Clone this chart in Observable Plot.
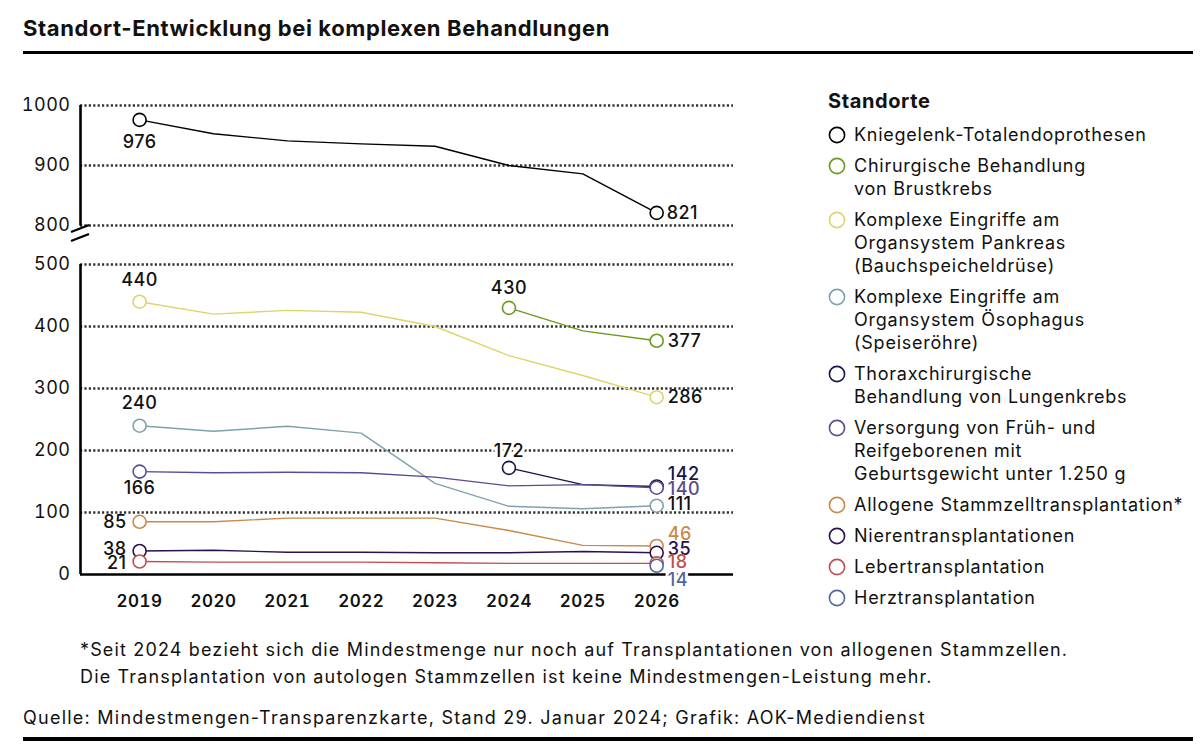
<!DOCTYPE html>
<html lang="de">
<head>
<meta charset="utf-8">
<script src="https://cdn.jsdelivr.net/npm/d3@7"></script>
<script src="https://cdn.jsdelivr.net/npm/@observablehq/plot@0.6"></script>
<style>
  body { margin: 0; background: #fff; }
  #page { position: relative; width: 1200px; height: 750px; font-family: Inter, "Noto Sans", sans-serif; color: #111; overflow: hidden; }
  #title { position: absolute; left: 23px; top: 15px; font-size: 22px; font-weight: 700; letter-spacing: 0.6px; }
  .rule { position: absolute; left: 23px; width: 1170px; background: #000; }
  #chart { position: absolute; left: 0; top: 60px; }
  #legend { position: absolute; left: 828px; top: 89px; }
  #legend .head { font-size: 20px; font-weight: 700; margin-bottom: 10px; letter-spacing: 0.6px; }
  #legend .item { display: flex; align-items: flex-start; font-size: 18px; letter-spacing: 0.75px; line-height: 23px; margin-bottom: 8px; }
  #legend .sw { width: 26px; flex: none; padding-top: 3px; }
  #legend .sw svg { display: block; }
  #foot { position: absolute; left: 80px; top: 636px; font-size: 18px; letter-spacing: 1.15px; line-height: 27px; }
  #source { position: absolute; left: 23px; top: 707px; font-size: 18px; letter-spacing: 1.25px; }
</style>
</head>
<body>
<div id="page">
  <div id="title">Standort-Entwicklung bei komplexen Behandlungen</div>
  <div class="rule" style="top:51px;height:3px"></div>
  <div id="chart"></div>
  <div id="legend"></div>
  <div id="foot">*Seit 2024 bezieht sich die Mindestmenge nur noch auf Transplantationen von allogenen Stammzellen.<br>Die Transplantation von autologen Stammzellen ist keine Mindestmengen-Leistung mehr.</div>
  <div id="source">Quelle: Mindestmengen-Transparenzkarte, Stand 29. Januar 2024; Grafik: AOK-Mediendienst</div>
  <div class="rule" style="top:737px;height:4px"></div>
</div>
<script>
// ---- data ----
const years = [2019, 2020, 2021, 2022, 2023, 2024, 2025, 2026];
const seriesNames = [
  "Kniegelenk-Totalendoprothesen",
  "Chirurgische Behandlung von Brustkrebs",
  "Komplexe Eingriffe am Organsystem Pankreas (Bauchspeicheldrüse)",
  "Komplexe Eingriffe am Organsystem Ösophagus (Speiseröhre)",
  "Thoraxchirurgische Behandlung von Lungenkrebs",
  "Versorgung von Früh- und Reifgeborenen mit Geburtsgewicht unter 1.250 g",
  "Allogene Stammzelltransplantation*",
  "Nierentransplantationen",
  "Lebertransplantation",
  "Herztransplantation"
];
const legendLines = [
  ["Kniegelenk-Totalendoprothesen"],
  ["Chirurgische Behandlung", "von Brustkrebs"],
  ["Komplexe Eingriffe am", "Organsystem Pankreas", "(Bauchspeicheldrüse)"],
  ["Komplexe Eingriffe am", "Organsystem Ösophagus", "(Speiseröhre)"],
  ["Thoraxchirurgische", "Behandlung von Lungenkrebs"],
  ["Versorgung von Früh- und", "Reifgeborenen mit", "Geburtsgewicht unter 1.250 g"],
  ["Allogene Stammzelltransplantation*"],
  ["Nierentransplantationen"],
  ["Lebertransplantation"],
  ["Herztransplantation"]
];
const knie       = [976, 953, 941, 936, 932, 900, 886, 821];
const brust      = [null, null, null, null, null, 430, 393, 377];
const pankreas   = [440, 420, 426, 423, 400, 353, 321, 286];
const oesophagus = [240, 231, 239, 228, 147, 110, 106, 111];
const lunge      = [null, null, null, null, null, 172, 145, 142];
const frueh      = [166, 164, 165, 164, 157, 143, 145, 140];
const allogen    = [85, 85, 91, 91, 91, 71, 47, 46];
const niere      = [38, 39, 36, 36, 35, 35, 37, 35];
const leber      = [21, 20, 20, 20, 19, 18, 18, 18];
const herz       = [null, null, null, null, null, null, null, 14];
const seriesValues = [knie, brust, pankreas, oesophagus, lunge, frueh, allogen, niere, leber, herz];
const seriesColors = ["#000000", "#6b9a1e", "#e0d36c", "#7ea2ad", "#16164a", "#5b4b90", "#c88a4c", "#2c1150", "#c0504d", "#5465a0"];
const yTicks = [0, 100, 200, 300, 400, 500, 800, 900, 1000];
const xTicks = years;

// ---- build table ----
const rows = [];
seriesNames.forEach((s, i) => seriesValues[i].forEach((v, j) => { if (v != null) rows.push({series: s, year: years[j], value: v}); }));
const ends = [];
seriesNames.forEach((s, i) => {
  const pts = rows.filter(r => r.series === s);
  if (pts.length > 1) ends.push({...pts[0], end: "start"});
  ends.push({...pts[pts.length - 1], end: "end"});
});

// label placement (styling)
const place = {
  "0|start": {dx: 0, dy: 22, a: "middle"}, "0|end": {dx: 10, dy: 0, a: "start"},
  "1|end": {dx: 11, dy: 0, a: "start"}, "1|start": {dx: 0, dy: -20, a: "middle"},
  "2|start": {dx: 0, dy: -21, a: "middle"}, "2|end": {dx: 11, dy: 0, a: "start"},
  "3|start": {dx: 0, dy: -22, a: "middle"}, "3|end": {dx: 11, dy: -1, a: "start"},
  "4|start": {dx: 0, dy: -17, a: "middle"}, "4|end": {dx: 11, dy: -12, a: "start"},
  "5|start": {dx: 0, dy: 17, a: "middle"}, "5|end": {dx: 11, dy: 2, a: "start"},
  "6|start": {dx: -13, dy: 0, a: "end"}, "6|end": {dx: 11, dy: -12, a: "start"},
  "7|start": {dx: -13, dy: -2, a: "end"}, "7|end": {dx: 11, dy: -4, a: "start"},
  "8|start": {dx: -13, dy: 2, a: "end"}, "8|end": {dx: 11, dy: -1, a: "start"},
  "9|end": {dx: 11, dy: 14, a: "start"}
};
const coloredLabel = {4: true, 5: true, 6: true, 7: true, 8: true, 9: true};
const haloLabel = {"4|start": true, "9|end": true};

const xDomain = [2018.2, 2027.04];
const W = 800, H = 560;
const yDomain = [0, 500, 800, 1000];
const yRange = [514, 204, 165, 45];

const labelMarks = ends.map(d => {
  const i = seriesNames.indexOf(d.series);
  const key = i + "|" + d.end;
  const p = place[key] || {dx: 0, dy: 0, a: "middle"};
  const fill = (d.end === "end" && coloredLabel[i]) ? seriesColors[i] : "#111";
  return Plot.text([d], {
    x: "year", y: "value", text: r => String(r.value),
    dx: p.dx, dy: p.dy, textAnchor: p.a, fill,
    fontSize: 18, fontWeight: 500,
    stroke: haloLabel[key] ? "white" : null, strokeWidth: haloLabel[key] ? 6 : 0
  });
});

const plot = Plot.plot({
  width: W, height: H,
  marginLeft: 80, marginRight: W - 733, marginTop: 45, marginBottom: H - 514,
  style: {fontFamily: "Inter, 'Noto Sans', sans-serif", color: "#111", background: "white", letterSpacing: "0.5px"},
  x: {type: "linear", domain: xDomain, axis: null},
  y: {type: "linear", domain: yDomain, range: yRange, axis: null},
  color: {domain: seriesNames, range: seriesColors},
  marks: [
    Plot.ruleY(yTicks.filter(t => t !== 0), {stroke: "#333", strokeWidth: 2.4, strokeDasharray: "2.2,2.2"}),
    Plot.ruleY([0], {stroke: "#000", strokeWidth: 2.6}),
    Plot.ruleX([{a: 0, b: 500}, {a: 796, b: 1000}], {x: () => xDomain[0], y1: "a", y2: "b", stroke: "#000", strokeWidth: 2.6}),
    Plot.axisY(yTicks, {tickSize: 0, tickPadding: 10, fontSize: 18, anchor: "left", label: null, tickFormat: d => String(d)}),
    Plot.axisX(xTicks, {tickSize: 0, tickPadding: 20, fontSize: 17, fontWeight: 600, tickFormat: d => String(d), anchor: "bottom", label: null}),
    Plot.line(rows, {x: "year", y: "value", z: "series", stroke: "series", strokeWidth: 1.4}),
    Plot.dot(ends, {x: "year", y: "value", stroke: "series", fill: "white", r: 6.5, strokeWidth: 1.6}),
    ...labelMarks
  ]
});
document.getElementById("chart").appendChild(plot);

// axis break marks
const svg = d3.select(plot);
const xs = plot.scale("x"), ys = plot.scale("y");
const ax = xs.apply(xDomain[0]);
const yb = ys.apply(800);
[4, 13].forEach(o1 => {
  svg.append("line")
    .attr("x1", ax - 9).attr("y1", yb + o1 + 3)
    .attr("x2", ax + 9).attr("y2", yb + o1 - 4)
    .attr("stroke", "#000").attr("stroke-width", 2.4);
});

// legend
const lg = d3.select("#legend");
lg.append("div").attr("class", "head").text("Standorte");
seriesNames.forEach((s, i) => {
  const it = lg.append("div").attr("class", "item");
  it.append("div").attr("class", "sw").html(
    `<svg width="18" height="18"><circle cx="9" cy="9" r="7.6" fill="white" stroke="${seriesColors[i]}" stroke-width="1.6"/></svg>`);
  it.append("div").html(legendLines[i].join("<br>"));
});
</script>
</body>
</html>
